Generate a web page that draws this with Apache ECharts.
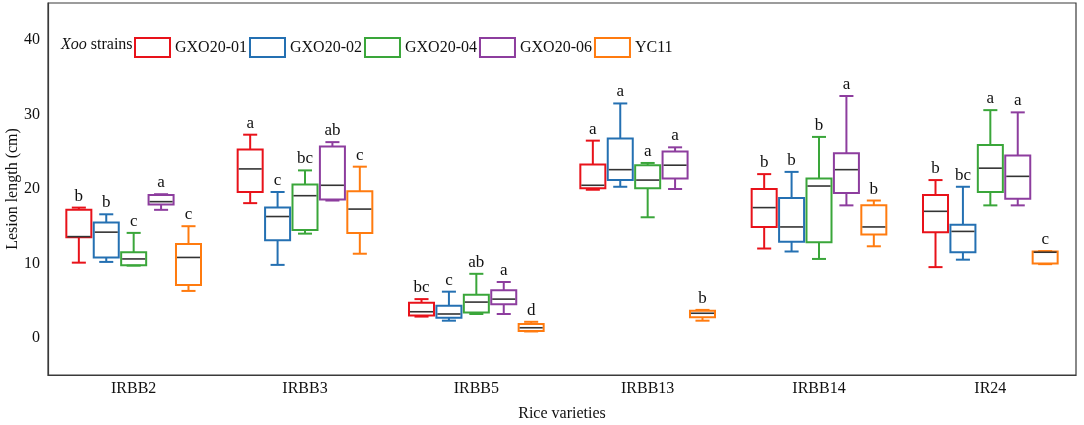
<!DOCTYPE html>
<html>
<head>
<meta charset="utf-8">
<script src="https://cdn.jsdelivr.net/npm/echarts@6/dist/echarts.min.js"></script>
<style>
html,body{margin:0;padding:0;background:#fff;}
#chart{width:1084px;height:425px;}
</style>
</head>
<body>
<div id="chart"></div>
<script>
// ---- data ----
var categories = ['IRBB2', 'IRBB3', 'IRBB5', 'IRBB13', 'IRBB14', 'IR24'];
var strains = ['GXO20-01', 'GXO20-02', 'GXO20-04', 'GXO20-06', 'YC11'];
// each entry: [min, Q1, median, Q3, max]
var gxo2001 = [
  [10.1, 13.5, 13.6, 17.2, 17.5],
  [18.1, 19.6, 22.7, 25.3, 27.3],
  [2.85, 3.0, 3.5, 4.7, 5.2],
  [19.9, 20.1, 20.5, 23.3, 26.5],
  [12.0, 14.9, 17.5, 20.0, 22.0],
  [9.5, 14.2, 17.0, 19.2, 21.2]
];
var gxo2002 = [
  [10.2, 10.8, 14.2, 15.5, 16.6],
  [9.8, 13.1, 16.3, 17.5, 19.6],
  [2.3, 2.7, 3.2, 4.3, 6.2],
  [20.3, 21.2, 22.6, 26.8, 31.5],
  [11.6, 12.9, 14.9, 18.8, 22.3],
  [10.5, 11.5, 14.3, 15.2, 20.3]
];
var gxo2004 = [
  [9.7, 9.75, 10.6, 11.5, 14.1],
  [14.0, 14.5, 19.1, 20.6, 22.5],
  [3.2, 3.4, 4.8, 5.8, 8.6],
  [16.2, 20.1, 21.2, 23.2, 23.5],
  [10.6, 12.85, 20.4, 21.4, 27.0],
  [17.8, 19.6, 22.8, 25.9, 30.6]
];
var gxo2006 = [
  [17.2, 17.9, 18.3, 19.2, 19.3],
  [18.45, 18.6, 20.5, 25.7, 26.3],
  [3.2, 4.5, 5.2, 6.4, 7.5],
  [20.0, 21.4, 23.2, 25.05, 25.6],
  [17.8, 19.45, 22.6, 24.8, 32.5],
  [17.8, 18.7, 21.7, 24.5, 30.3]
];
var yc11 = [
  [6.3, 7.1, 10.8, 12.6, 15.0],
  [11.3, 14.1, 17.3, 19.7, 23.0],
  [0.85, 0.9, 1.35, 1.85, 2.15],
  [2.3, 2.75, 3.3, 3.64, 3.75],
  [12.3, 13.9, 14.9, 17.8, 18.45],
  [9.9, 10.0, 11.5, 11.6, 11.65]
];
// significance letters per strain, per variety
var letters2001 = ['b', 'a', 'bc', 'a', 'b', 'b'];
var letters2002 = ['b', 'c', 'c', 'a', 'b', 'bc'];
var letters2004 = ['c', 'bc', 'ab', 'a', 'b', 'a'];
var letters2006 = ['a', 'ab', 'a', 'a', 'a', 'a'];
var lettersYC11 = ['c', 'c', 'd', 'b', 'b', 'c'];
var yTickLabels = [0, 10, 20, 30, 40];

var seriesValues = [gxo2001, gxo2002, gxo2004, gxo2006, yc11];
var seriesLetters = [letters2001, letters2002, letters2004, letters2006, lettersYC11];
var colors = ['#e8121a', '#2470b2', '#3aa63a', '#8d3d9e', '#ff7b0f'];
var FONT = '"Liberation Serif", "Times New Roman", serif';

function makeRender(si) {
  return function (params, api) {
    var cat = api.value(0);
    var band = api.size([1, 0])[0];
    var step = band * 0.16;
    var bw = band * 0.146;
    var cw = band * 0.082;
    var cx = api.coord([cat, 0])[0] + (si - 2) * step;
    var yMin = api.coord([cat, api.value(1)])[1];
    var yQ1 = api.coord([cat, api.value(2)])[1];
    var yMed = api.coord([cat, api.value(3)])[1];
    var yQ3 = api.coord([cat, api.value(4)])[1];
    var yMax = api.coord([cat, api.value(5)])[1];
    var col = colors[si];
    var ls = { stroke: col, lineWidth: 2, fill: null };
    return {
      type: 'group',
      children: [
        { type: 'line', shape: { x1: cx, y1: yMax, x2: cx, y2: yQ3 }, style: ls },
        { type: 'line', shape: { x1: cx, y1: yQ1, x2: cx, y2: yMin }, style: ls },
        { type: 'line', shape: { x1: cx - cw / 2, y1: yMax, x2: cx + cw / 2, y2: yMax }, style: ls },
        { type: 'line', shape: { x1: cx - cw / 2, y1: yMin, x2: cx + cw / 2, y2: yMin }, style: ls },
        { type: 'rect', shape: { x: cx - bw / 2, y: yQ3, width: bw, height: yQ1 - yQ3 }, style: { stroke: col, lineWidth: 2, fill: null } },
        { type: 'line', shape: { x1: cx - bw / 2 + 1, y1: yMed, x2: cx + bw / 2 - 1, y2: yMed }, style: { stroke: '#333', lineWidth: 1.6 } },
        { type: 'text', x: cx, y: yMax - 3, style: { text: seriesLetters[si][params.dataIndex], fill: '#111', font: '17px ' + FONT, align: 'center', verticalAlign: 'bottom' } }
      ]
    };
  };
}

var series = strains.map(function (name, si) {
  return {
    name: name,
    type: 'custom',
    renderItem: makeRender(si),
    itemStyle: { color: colors[si] },
    encode: { x: 0, y: [1, 2, 3, 4, 5] },
    data: seriesValues[si].map(function (v, ci) { return [ci].concat(v); }),
    z: 3
  };
});

var chart = echarts.init(document.getElementById('chart'), null, { renderer: 'canvas' });
chart.setOption({
  backgroundColor: '#fff',
  animation: false,
  grid: { left: 48, right: 8, top: 3, bottom: 50, show: true, borderColor: '#3a3a3a', borderWidth: 1.2, containLabel: false, outerBoundsMode: 'none' },
  legend: {
    left: 129, top: 32,
    itemWidth: 35, itemHeight: 19, itemGap: 2,
    textStyle: { fontFamily: FONT, fontSize: 16, color: '#111' },
    data: strains.map(function (n, i) {
      return { name: n, icon: 'rect', itemStyle: { color: '#fff', borderColor: colors[i], borderWidth: 2 } };
    })
  },
  graphic: [{
    type: 'text', left: 61, top: 37,
    style: {
      text: '{i|Xoo} strains',
      font: '16px ' + FONT, fill: '#111',
      rich: { i: { fontStyle: 'italic', fontFamily: FONT, fontSize: 16, fill: '#111' } }
    }
  }, {
    type: 'text', x: 13, y: 189, rotation: Math.PI / 2,
    style: {
      text: 'Lesion length (cm)',
      font: '16px ' + FONT, fill: '#111',
      align: 'center', verticalAlign: 'middle'
    }
  }],
  xAxis: {
    type: 'category',
    data: categories,
    name: 'Rice varieties',
    nameLocation: 'middle',
    nameGap: 31,
    nameTextStyle: { fontFamily: FONT, fontSize: 16, color: '#111' },
    axisLine: { onZero: false, lineStyle: { color: '#3a3a3a', width: 1.2 } },
    axisTick: { inside: true, alignWithLabel: true, length: 5, lineStyle: { color: '#3a3a3a' } },
    axisLabel: { fontFamily: FONT, fontSize: 16, color: '#111', margin: 6 },
    splitLine: { show: false }
  },
  yAxis: {
    type: 'value',
    min: -5, max: 45, interval: 5,
    axisLine: { show: true, onZero: false, lineStyle: { color: '#3a3a3a', width: 1.2 } },
    axisTick: { inside: true, length: 5, lineStyle: { color: '#3a3a3a' } },
    axisLabel: {
      fontFamily: FONT, fontSize: 16, color: '#111', margin: 8,
      formatter: function (v) { return yTickLabels.indexOf(v) >= 0 ? String(v) : ''; }
    },
    splitLine: { show: false }
  },
  series: series
});
</script>
</body>
</html>
